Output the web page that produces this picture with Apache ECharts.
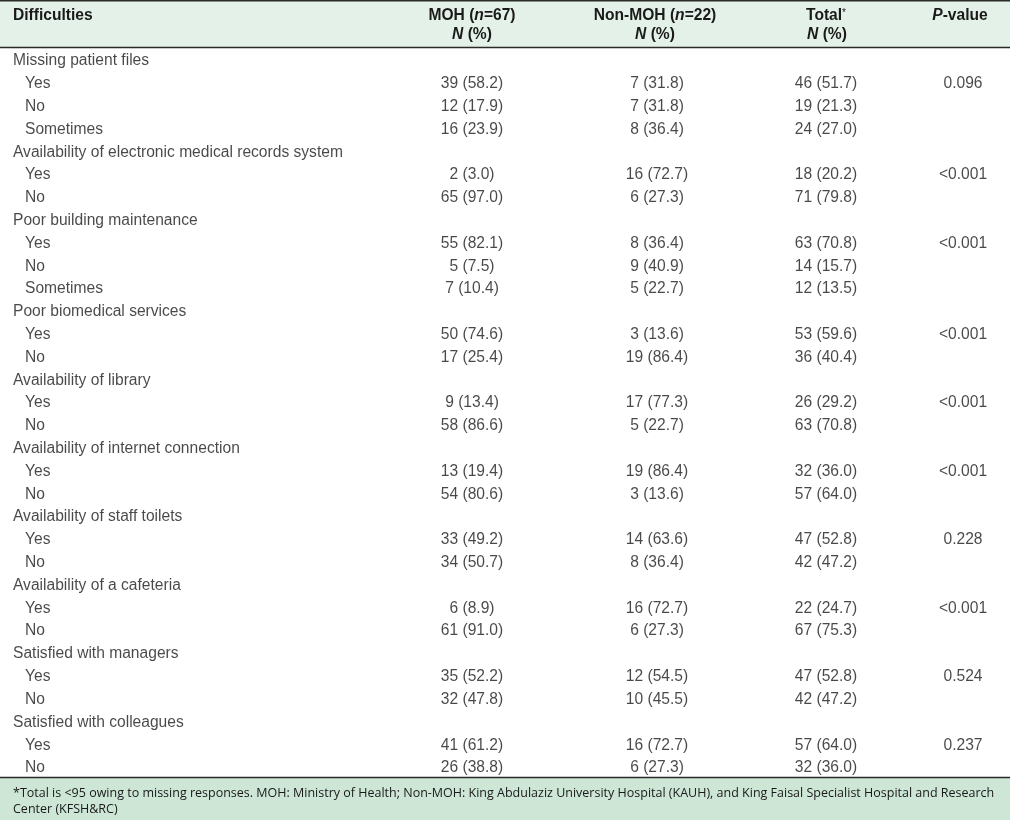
<!DOCTYPE html>
<html>
<head>
<meta charset="utf-8">
<script src="https://cdn.jsdelivr.net/npm/echarts@6.0.0/dist/echarts.min.js"></script>
<style>
  html, body { margin: 0; padding: 0; background: #fff; }
  #chart { width: 1010px; height: 820px; }
</style>
</head>
<body>
<div id="chart"></div>
<script>
const groups = [
  "Missing patient files",
  "Availability of electronic medical records system",
  "Poor building maintenance",
  "Poor biomedical services",
  "Availability of library",
  "Availability of internet connection",
  "Availability of staff toilets",
  "Availability of a cafeteria",
  "Satisfied with managers",
  "Satisfied with colleagues",
];
const answers = [
  ["Yes", "No", "Sometimes"],
  ["Yes", "No"],
  ["Yes", "No", "Sometimes"],
  ["Yes", "No"],
  ["Yes", "No"],
  ["Yes", "No"],
  ["Yes", "No"],
  ["Yes", "No"],
  ["Yes", "No"],
  ["Yes", "No"],
];
const mohN = [[39, 12, 16], [2, 65], [55, 5, 7], [50, 17], [9, 58], [13, 54], [33, 34], [6, 61], [35, 32], [41, 26]];
const mohPct = [[58.2, 17.9, 23.9], [3.0, 97.0], [82.1, 7.5, 10.4], [74.6, 25.4], [13.4, 86.6], [19.4, 80.6], [49.2, 50.7], [8.9, 91.0], [52.2, 47.8], [61.2, 38.8]];
const nonMohN = [[7, 7, 8], [16, 6], [8, 9, 5], [3, 19], [17, 5], [19, 3], [14, 8], [16, 6], [12, 10], [16, 6]];
const nonMohPct = [[31.8, 31.8, 36.4], [72.7, 27.3], [36.4, 40.9, 22.7], [13.6, 86.4], [77.3, 22.7], [86.4, 13.6], [63.6, 36.4], [72.7, 27.3], [54.5, 45.5], [72.7, 27.3]];
const totalN = [[46, 19, 24], [18, 71], [63, 14, 12], [53, 36], [26, 63], [32, 57], [47, 42], [22, 67], [47, 42], [57, 32]];
const totalPct = [[51.7, 21.3, 27.0], [20.2, 79.8], [70.8, 15.7, 13.5], [59.6, 40.4], [29.2, 70.8], [36.0, 64.0], [52.8, 47.2], [24.7, 75.3], [52.8, 47.2], [64.0, 36.0]];
const pValues = ["0.096", "<0.001", "<0.001", "<0.001", "<0.001", "<0.001", "0.228", "<0.001", "0.524", "0.237"];
const footnote = [
  "*Total is <95 owing to missing responses. MOH: Ministry of Health; Non-MOH: King Abdulaziz University Hospital (KAUH), and King Faisal Specialist Hospital and Research",
  "Center (KFSH&RC)",
];

// column x positions (pixels on a 0..1010 value axis)
const COL = { group: 13, answer: 25, moh: 472, nonMoh: 657, total: 826, p: 963 };
const FONT = "Liberation Sans, Arial, sans-serif";
const SIZE = 15.6;
const INK = "#1a1a1a";

const cell = (n, pct) => `${n} (${pct.toFixed(1)})`;

// flatten groups into table rows
const rows = [];
groups.forEach((g, gi) => {
  rows.push({ label: g, indent: false });
  answers[gi].forEach((a, ai) => {
    rows.push({
      label: a,
      indent: true,
      moh: cell(mohN[gi][ai], mohPct[gi][ai]),
      nonMoh: cell(nonMohN[gi][ai], nonMohPct[gi][ai]),
      total: cell(totalN[gi][ai], totalPct[gi][ai]),
      p: ai === 0 ? pValues[gi] : "",
    });
  });
});
const rowIds = rows.map((_, i) => String(i));

const textSeries = (name, key, align) => ({
  name,
  type: "scatter",
  symbolSize: 1,
  itemStyle: { color: "rgba(0,0,0,0)" },
  silent: true,
  data: rows
    .map((r, i) => ({ r, i }))
    .filter(({ r }) => r[key])
    .map(({ r, i }) => ({
      value: [key === "label" ? (r.indent ? COL.answer : COL.group) : COL[key], rowIds[i]],
      text: r[key],
    })),
  label: {
    show: true,
    position: "inside",
    align,
    verticalAlign: "middle",
    formatter: (p) => p.data.text,
    color: INK,
    fontFamily: FONT,
    fontSize: SIZE,
  },
});

const b = { fontFamily: FONT, fontSize: SIZE, fontWeight: "bold", color: INK };
const bi = { ...b, fontStyle: "italic" };
const sup = { fontFamily: FONT, fontSize: 10, color: INK, verticalAlign: "top" };
const headText = (x, y, text, align = "center") => ({
  type: "text",
  x,
  y,
  style: { text, rich: { b, bi, sup }, align, verticalAlign: "middle", fill: INK },
});
const hLine = (y) => ({
  type: "line",
  shape: { x1: 0, y1: y, x2: 1010, y2: y },
  style: { stroke: "#2a2a2a", lineWidth: 1.5 },
});

const chart = echarts.init(document.getElementById("chart"), null, { renderer: "canvas" });
chart.setOption({
  animation: false,
  grid: { left: 0, right: 0, top: 49.6, bottom: 40.6 },
  xAxis: { type: "value", min: 0, max: 1010, show: false },
  yAxis: { type: "category", data: rowIds, inverse: true, show: false },
  graphic: [
    { type: "rect", shape: { x: 0, y: 0, width: 1010, height: 48 }, style: { fill: "#e3f1e8" }, z: -1 },
    { type: "rect", shape: { x: 0, y: 778, width: 1010, height: 42 }, style: { fill: "#cde6d6" }, z: -1 },
    hLine(0.75),
    hLine(47.5),
    hLine(777.5),
    headText(COL.group, 16, "{b|Difficulties}", "left"),
    headText(472, 16, "{b|MOH (}{bi|n}{b|=67)}"),
    headText(472, 35, "{bi|N}{b| (%)}"),
    headText(655, 16, "{b|Non-MOH (}{bi|n}{b|=22)}"),
    headText(655, 35, "{bi|N}{b| (%)}"),
    headText(826, 16, "{b|Total}{sup|*}"),
    headText(827, 35, "{bi|N}{b| (%)}"),
    headText(960, 16, "{bi|P}{b|-value}"),
    ...footnote.map((t, i) => ({
      type: "text",
      x: 13,
      y: 793 + i * 16,
      style: { text: t, font: "12.5px Open Sans, sans-serif", fill: INK, verticalAlign: "middle" },
    })),
  ],
  series: [
    textSeries("label", "label", "left"),
    textSeries("moh", "moh", "center"),
    textSeries("nonMoh", "nonMoh", "center"),
    textSeries("total", "total", "center"),
    textSeries("p", "p", "center"),
  ],
});
</script>
</body>
</html>
